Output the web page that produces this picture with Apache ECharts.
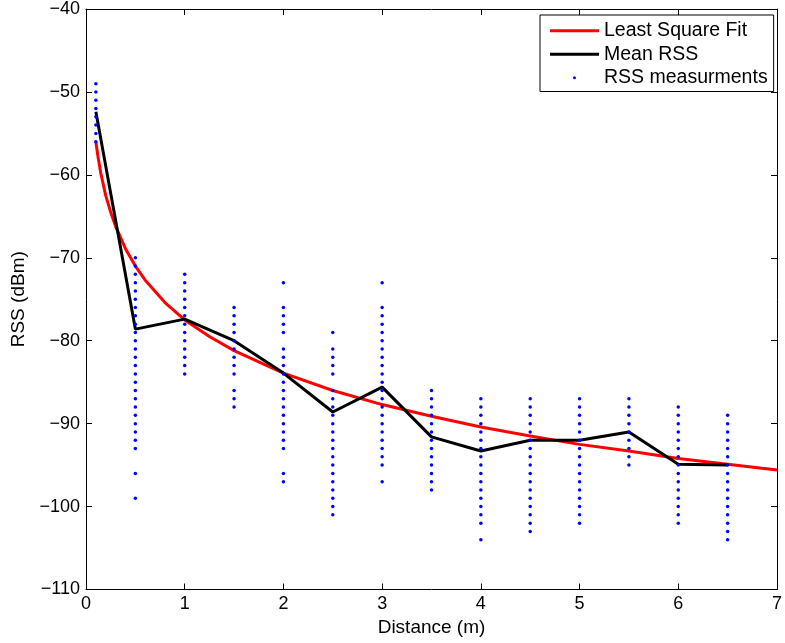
<!DOCTYPE html>
<html>
<head>
<meta charset="utf-8">
<script src="https://cdn.jsdelivr.net/npm/echarts@6/dist/echarts.min.js"></script>
<style>
html,body{margin:0;padding:0;background:#fff;}
#chart{width:785px;height:643px;}
</style>
</head>
<body>
<div id="chart"></div>
<script>
// Distances (m) where RSS was measured
const distances = [0.1, 0.5, 1, 1.5, 2, 2.5, 3, 3.5, 4, 4.5, 5, 5.5, 6, 6.5];

// RSS measurements (dBm) per distance
const meas_0_1 = [-49,-50,-51,-52,-53,-54,-55,-56];
const meas_0_5 = [-70,-71,-72,-73,-74,-75,-76,-77,-78,-79,-80,-81,-82,-83,-84,-85,-86,-87,-88,-89,-90,-91,-92,-93,-96,-99];
const meas_1_0 = [-72,-73,-74,-75,-76,-77,-78,-79,-80,-81,-82,-83,-84];
const meas_1_5 = [-76,-77,-78,-79,-80,-81,-82,-83,-84,-86,-87,-88];
const meas_2_0 = [-73,-76,-77,-78,-79,-81,-82,-83,-84,-85,-86,-87,-88,-89,-90,-91,-92,-93,-96,-97];
const meas_2_5 = [-79,-81,-82,-83,-84,-86,-87,-88,-89,-90,-91,-92,-93,-94,-95,-96,-97,-98,-99,-100,-101];
const meas_3_0 = [-73,-76,-77,-78,-79,-80,-81,-82,-83,-84,-85,-86,-87,-88,-89,-90,-91,-92,-93,-94,-95,-97];
const meas_3_5 = [-86,-87,-88,-89,-90,-91,-92,-93,-94,-95,-96,-97,-98];
const meas_4_0 = [-87,-88,-89,-90,-91,-92,-93,-94,-95,-96,-97,-98,-99,-100,-101,-102,-104];
const meas_4_5 = [-87,-88,-89,-90,-91,-92,-93,-94,-95,-96,-97,-98,-99,-100,-101,-102,-103];
const meas_5_0 = [-87,-88,-89,-90,-91,-92,-93,-94,-95,-96,-97,-98,-99,-100,-101,-102];
const meas_5_5 = [-87,-88,-89,-90,-91,-92,-93,-94,-95];
const meas_6_0 = [-88,-89,-90,-91,-92,-93,-94,-95,-96,-97,-98,-99,-100,-101,-102];
const meas_6_5 = [-89,-90,-91,-92,-93,-94,-95,-96,-97,-98,-99,-100,-101,-102,-103,-104];
const measurements = [meas_0_1, meas_0_5, meas_1_0, meas_1_5, meas_2_0, meas_2_5, meas_3_0,
  meas_3_5, meas_4_0, meas_4_5, meas_5_0, meas_5_5, meas_6_0, meas_6_5];

// Mean RSS (dBm) per distance
const meanRSS = [-52.4, -78.6, -77.4, -80.0, -83.9, -88.6, -85.6, -91.6, -93.3, -92.0, -92.0, -91.0, -94.9, -95.0];

// Least square fit curve
const fitX = [0.1, 0.12, 0.15, 0.2, 0.25, 0.3, 0.4, 0.5, 0.6, 0.8, 1, 1.25, 1.5, 2, 2.5, 3, 3.5, 4, 4.5, 5, 5.5, 6, 6.5, 7];
const fitY = [-56.0, -57.7, -59.8, -62.5, -64.5, -66.2, -68.9, -71.0, -72.7, -75.4, -77.5, -79.5, -81.2, -83.9, -86.0, -87.7, -89.1, -90.4, -91.5, -92.5, -93.3, -94.2, -94.9, -95.6];

// Axis ticks
const xTicks = {min: 0, max: 7, step: 1};
const yTicks = {min: -110, max: -40, step: 10};

const scatterData = [];
distances.forEach((d, i) => measurements[i].forEach(v => scatterData.push([d, v])));
const meanData = distances.map((d, i) => [d, meanRSS[i]]);
const fitData = fitX.map((x, i) => [x, fitY[i]]);

const FONT = "'Liberation Sans', Arial, Helvetica, sans-serif";
const minus = v => String(v).replace('-', '\u2212');

const tickCommon = {show: true, inside: true, length: 6, lineStyle: {color: '#000', width: 1}};
const lineCommon = {show: true, onZero: false, lineStyle: {color: '#000', width: 1}};
const barIcon = 'path://M0,0L49,0L49,3L0,3Z';

const chart = echarts.init(document.getElementById('chart'), null, {renderer: 'canvas'});
chart.setOption({
  animation: false,
  backgroundColor: '#fff',
  textStyle: {fontFamily: FONT},
  grid: {left: 86, right: 6, top: 7.5, bottom: 53.5, containLabel: false},
  legend: {
    data: [
      {name: 'Least Square Fit', icon: barIcon, itemStyle: {color: '#ff0000'}},
      {name: 'Mean RSS', icon: barIcon, itemStyle: {color: '#000000'}},
      {name: 'RSS measurments', icon: 'circle'}
    ],
    orient: 'vertical',
    left: 540,
    top: 15,
    itemWidth: 49,
    itemHeight: 3,
    itemGap: 0,
    padding: [4, 6, 2, 10],
    borderColor: '#000',
    borderWidth: 1,
    backgroundColor: '#fff',
    textStyle: {fontFamily: FONT, fontSize: 19.5, color: '#000', lineHeight: 23.5},
    selectedMode: false
  },
  xAxis: [
    {
      type: 'value', position: 'bottom', min: xTicks.min, max: xTicks.max, interval: xTicks.step,
      axisLine: lineCommon, axisTick: tickCommon, splitLine: {show: false},
      axisLabel: {color: '#000', fontSize: 18, fontFamily: FONT, margin: 6},
      name: 'Distance (m)', nameLocation: 'middle', nameGap: 28,
      nameTextStyle: {color: '#000', fontSize: 19, fontFamily: FONT}
    },
    {
      type: 'value', position: 'top', min: xTicks.min, max: xTicks.max, interval: xTicks.step,
      axisLine: lineCommon, axisTick: tickCommon, splitLine: {show: false},
      axisLabel: {show: false}
    }
  ],
  yAxis: [
    {
      type: 'value', position: 'left', min: yTicks.min, max: yTicks.max, interval: yTicks.step,
      axisLine: lineCommon, axisTick: tickCommon, splitLine: {show: false},
      axisLabel: {color: '#000', fontSize: 18, fontFamily: FONT, margin: 6, formatter: minus},
      name: 'RSS (dBm)', nameLocation: 'middle', nameGap: 53, nameRotate: 90,
      nameTextStyle: {color: '#000', fontSize: 19, fontFamily: FONT}
    },
    {
      type: 'value', position: 'right', min: yTicks.min, max: yTicks.max, interval: yTicks.step,
      axisLine: lineCommon, axisTick: tickCommon, splitLine: {show: false},
      axisLabel: {show: false}
    }
  ],
  series: [
    {
      name: 'Least Square Fit', type: 'line', data: fitData, xAxisIndex: 0, yAxisIndex: 0,
      symbol: 'none', showSymbol: false, smooth: false,
      lineStyle: {color: '#ff0000', width: 3}, itemStyle: {color: '#ff0000'}, z: 2
    },
    {
      name: 'Mean RSS', type: 'line', data: meanData, xAxisIndex: 0, yAxisIndex: 0,
      symbol: 'none', showSymbol: false,
      lineStyle: {color: '#000000', width: 3}, itemStyle: {color: '#000000'}, z: 3
    },
    {
      name: 'RSS measurments', type: 'scatter', data: scatterData, xAxisIndex: 0, yAxisIndex: 0,
      symbol: 'circle', symbolSize: 3.5,
      itemStyle: {color: '#0000ff', opacity: 1}, z: 4
    }
  ]
});
</script>
</body>
</html>
